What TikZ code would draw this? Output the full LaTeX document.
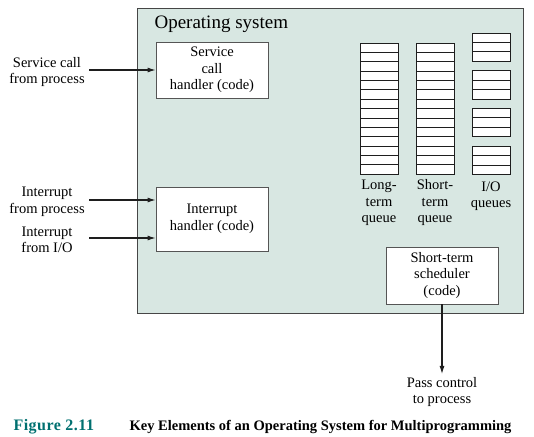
\documentclass[tikz,border=0pt]{standalone}
\usepackage{fontspec}
\setmainfont{Liberation Serif}
\usetikzlibrary{arrows.meta, positioning}
\definecolor{osfill}{RGB}{216,231,226}
\definecolor{osedge}{RGB}{70,70,70}
\definecolor{boxedge}{RGB}{85,85,85}
\definecolor{capteal}{RGB}{0,112,112}
\definecolor{mydark}{RGB}{30,30,30}
\tikzset{
  codebox/.style={rectangle, draw=boxedge, fill=white, align=center,
    minimum width=112pt, font=\fontsize{14.5}{16.5}\selectfont,
    line width=0.8pt, inner sep=2pt},
  lbl/.style={align=center, font=\fontsize{14.5}{16.5}\selectfont, inner sep=0pt},
  qrow/.style={draw=mydark, fill=white, line width=0.7pt},
  arrow/.style={-{Latex[length=8pt,width=5pt]}, line width=1.1pt, color=mydark}
}

\begin{document}
\begin{tikzpicture}[x=1pt, y=-1pt]
  \useasboundingbox (0,0) rectangle (534,436);

  % Operating system area
  \draw[fill=osfill, draw=osedge, line width=0.8pt] (137,8) rectangle (523,313);
  \node[anchor=base west, font=\fontsize{19}{22}\selectfont] (ostitle) at (151,29) {Operating system};

  % Handlers
  \node[codebox, minimum height=56pt] (svc) at (212,70) {Service\\call\\handler (code)};
  \node[codebox, minimum height=64pt] (intr) at (212,219) {Interrupt\\handler (code)};
  \node[codebox, minimum height=57pt] (sched) at (442,275.5) {Short-term\\scheduler\\(code)};

  % Inputs
  \node[lbl] (svclbl) at (47,72) {Service call\\from process};
  \node[lbl] (intplbl) at (47,202) {Interrupt\\from process};
  \node[lbl] (intiolbl) at (47,240) {Interrupt\\from I/O};
  \coordinate (svcin) at (89,70);
  \coordinate (intpin) at (89,200);
  \coordinate (intioin) at (89,238);
  \draw[arrow] (svcin) -- (svcin -| svc.west);
  \draw[arrow] (intpin) -- (intpin -| intr.west);
  \draw[arrow] (intioin) -- (intioin -| intr.west);

  % Output
  \node[lbl] (passlbl) at (442,392) {Pass control\\to process};
  \draw[arrow] (sched.south) -- ([yshift=3pt]passlbl.north);

  % Queues
  \foreach \i in {0,...,13} {
    \draw[qrow] (360,{43+\i*9.36}) rectangle (398,{43+(\i+1)*9.36});
    \draw[qrow] (416,{43+\i*9.36}) rectangle (454,{43+(\i+1)*9.36});
  }
  \foreach \g in {0,...,3}
    \foreach \i in {0,1,2}
      \draw[qrow] (472,{33+\g*37.7+\i*9.4}) rectangle (510,{33+\g*37.7+(\i+1)*9.4});
  \node[lbl] (ltq) at (379,203) {Long-\\term\\queue};
  \node[lbl] (stq) at (435,203) {Short-\\term\\queue};
  \node[lbl] (ioq) at (491,196) {I/O\\queues};

  % Caption
  \node[anchor=base west, font=\bfseries\fontsize{16}{18}\selectfont\addfontfeature{LetterSpace=3}, text=capteal] (figno) at (10,430) {Figure 2.11};
  \node[anchor=base east, font=\bfseries\fontsize{14.5}{17}\selectfont] (figcap) at (515,430) {Key Elements of an Operating System for Multiprogramming};
\end{tikzpicture}
\end{document}
